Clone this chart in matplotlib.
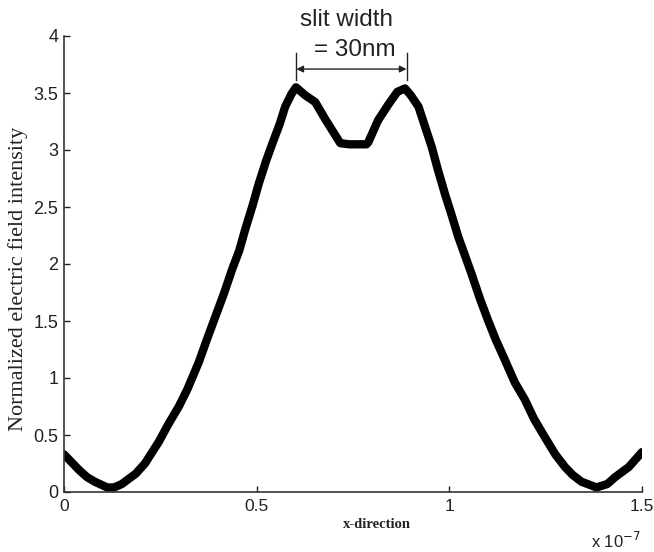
import numpy as np
import matplotlib
matplotlib.use('Agg')
from matplotlib import pyplot as plt

# field profile, x in units of 1e-7 m
x_pos = [0.0, 0.02, 0.04, 0.06, 0.08, 0.112, 0.13, 0.15, 0.186, 0.21,
         0.246, 0.27, 0.298, 0.32, 0.35, 0.37, 0.393, 0.415, 0.436, 0.455,
         0.47, 0.49, 0.505, 0.525, 0.54, 0.56, 0.574, 0.59, 0.602, 0.626,
         0.652, 0.678, 0.717, 0.74, 0.764, 0.785, 0.79, 0.815, 0.842, 0.865,
         0.885, 0.90, 0.92, 0.954, 0.97, 0.989, 1.005, 1.023, 1.04, 1.058,
         1.08, 1.10, 1.12, 1.144, 1.17, 1.196, 1.22, 1.248, 1.275, 1.30,
         1.32, 1.343, 1.382, 1.41, 1.43, 1.466, 1.5]
intensity = [0.33, 0.26, 0.19, 0.13, 0.09, 0.04, 0.04, 0.07, 0.16, 0.25,
             0.44, 0.59, 0.75, 0.90, 1.14, 1.33, 1.54, 1.74, 1.95, 2.12,
             2.30, 2.52, 2.70, 2.91, 3.05, 3.23, 3.38, 3.49, 3.55, 3.48,
             3.42, 3.27, 3.06, 3.05, 3.05, 3.05, 3.07, 3.26, 3.40, 3.51,
             3.54, 3.48, 3.38, 3.03, 2.83, 2.61, 2.44, 2.24, 2.08, 1.91,
             1.69, 1.51, 1.34, 1.16, 0.96, 0.81, 0.64, 0.48, 0.33, 0.22,
             0.15, 0.09, 0.04, 0.07, 0.13, 0.22, 0.35]

x_ticks = [0, 0.5, 1, 1.5]
x_ticklabels = ['0', '0.5', '1', '1.5']
y_ticks = [0, 0.5, 1, 1.5, 2, 2.5, 3, 3.5, 4]
y_ticklabels = ['0', '0.5', '1', '1.5', '2', '2.5', '3', '3.5', '4']

slit_left = 0.603
slit_right = 0.889

fig = plt.figure(figsize=(6.54, 5.52), dpi=100)
ax = fig.add_axes([64/654, 1 - 492/552, 578/654, 456/552])

ax.plot(x_pos, intensity, c='black', lw=6, solid_capstyle='round', solid_joinstyle='round')

ax.set_xlim(0, 1.5)
ax.set_ylim(0, 4)
ax.set_xticks(x_ticks)
ax.set_xticklabels(x_ticklabels)
ax.set_yticks(y_ticks)
ax.set_yticklabels(y_ticklabels)
ax.tick_params(direction='in', length=4, width=1, labelsize=13, colors='#222222')
ax.tick_params(axis='x', pad=5, labelsize=12.5)
ax.tick_params(axis='y', pad=4)
for lab in ax.get_xticklabels() + ax.get_yticklabels():
    lab.set_family('Liberation Sans')
ax.spines['top'].set_visible(False)
ax.spines['right'].set_visible(False)
ax.spines['left'].set_color('#333333')
ax.spines['bottom'].set_color('#333333')
ax.spines['left'].set_linewidth(1.2)
ax.spines['bottom'].set_linewidth(1.2)

# slit width marker
ax.annotate('', xy=(slit_left, 3.71), xytext=(slit_right, 3.71),
            arrowprops=dict(arrowstyle='<|-|>', color='#222222', lw=1, mutation_scale=10,
                            shrinkA=0, shrinkB=0))
ax.plot([slit_left, slit_left], [3.61, 3.85], c='#222222', lw=1)
ax.plot([slit_right, slit_right], [3.61, 3.85], c='#222222', lw=1)
ax.text(0.733, 4.14, 'slit width', ha='center', va='center', fontsize=17.5,
        family='Liberation Sans', color='#222222', clip_on=False)
ax.text(0.755, 3.88, '= 30nm', ha='center', va='center', fontsize=17.5,
        family='Liberation Sans', color='#222222', clip_on=False)

fig.text(18/654, 1 - 279/552, 'Normalized electric field intensity', rotation=90,
         ha='center', va='center', fontsize=16, family='Liberation Serif', color='#222222')
fig.text(377/654, 1 - 524/552, 'x-direction', ha='center', va='center', fontsize=10.5,
         family='Liberation Serif', fontweight='bold', color='#222222')
fig.text(641/654, 1 - 541/552, 'x 10$^{-7}$', ha='right', va='center', fontsize=12,
         family='Liberation Sans', color='#222222')

plt.savefig('out.png', dpi=100)
